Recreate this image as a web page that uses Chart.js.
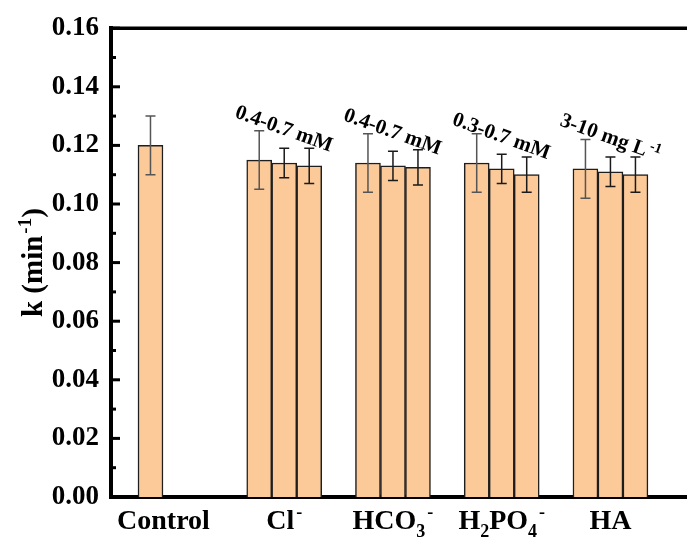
<!DOCTYPE html>
<html lang="en">
<head>
  <meta charset="UTF-8" />
  <title>k (min-1) per anion</title>
  <style>
    html, body { margin: 0; padding: 0; background: #fff; }
    #wrap { width: 687px; height: 540px; }
  </style>
</head>
<body>
  <div id="wrap"><canvas id="chart-k"></canvas></div>

  <script src="https://cdn.jsdelivr.net/npm/chart.js"></script>
  <script>
    // data
    const groups = ['Control', 'Cl-', 'HCO3-', 'H2PO4-', 'HA'];
    const kLow  = [0.120, 0.115, 0.114, 0.114, 0.112];
    const kMid  = [null, 0.114, 0.113, 0.112, 0.111];
    const kHigh = [null, 0.113, 0.1125, 0.110, 0.110];
    const errLow  = [0.010, 0.010, 0.010, 0.010, 0.010];
    const errMid  = [null, 0.005, 0.005, 0.005, 0.005];
    const errHigh = [null, 0.006, 0.006, 0.006, 0.006];
    const rangeText = ['', '0.4-0.7 mM', '0.4-0.7 mM', '0.3-0.7 mM', '3-10 mg L-1'];
    const rangeAt   = [null, 0.126, 0.125, 0.1235, 0.123];
    const yTicks = [0, 0.02, 0.04, 0.06, 0.08, 0.10, 0.12, 0.14, 0.16];

    // rich text pieces: [text, '' | 'sub' | 'sup']
    const groupLabels = [
      [['Control', '']],
      [['Cl', ''], ['-', 'sup']],
      [['HCO', ''], ['3', 'sub'], ['-', 'sup']],
      [['H', ''], ['2', 'sub'], ['PO', ''], ['4', 'sub'], ['-', 'sup']],
      [['HA', '']]
    ];
    const rangeLabels = rangeText.map(t => t.endsWith('L-1') ? [[t.slice(0, -2), ''], ['-1', 'sup']] : [[t, '']]);

    const FONT = '"Liberation Serif", "Times New Roman", serif';

    function drawParts(ctx, parts, x, y, size) {
      const big = 'bold ' + size + 'px ' + FONT;
      const small = 'bold ' + Math.round(size * 0.66) + 'px ' + FONT;
      let total = 0;
      parts.forEach(([t, k]) => { ctx.font = k ? small : big; total += ctx.measureText(t).width + (k === 'sup' ? 2 : 0); });
      let cx = x - total / 2;
      ctx.textAlign = 'left';
      ctx.textBaseline = 'alphabetic';
      parts.forEach(([t, k]) => {
        ctx.font = k ? small : big;
        if (k === 'sup') cx += 2;
        const dy = k === 'sub' ? size * 0.28 : (k === 'sup' ? -size * 0.38 : 0);
        ctx.fillText(t, cx, y + dy);
        cx += ctx.measureText(t).width;
      });
    }

    const toPoints = arr => arr.map((v, i) => ({ x: i + 1, y: v }));
    const errs = [errLow, errMid, errHigh];

    // error bars, inward ticks, top frame line and all the rich text
    const decorations = {
      id: 'decorations',
      afterDatasetsDraw(chart) {
        const { ctx } = chart;
        const y = chart.scales.y;
        ctx.save();
        chart.data.datasets.forEach((ds, d) => {
          const meta = chart.getDatasetMeta(d);
          ctx.strokeStyle = d === 0 ? '#555' : '#1a1a1a';
          ctx.lineWidth = 1.5;
          meta.data.forEach((bar, i) => {
            const v = ds.data[i].y;
            const e = errs[d][i];
            if (v == null || e == null) return;
            const top = y.getPixelForValue(v + e);
            const bot = y.getPixelForValue(v - e);
            ctx.beginPath();
            ctx.moveTo(bar.x, top); ctx.lineTo(bar.x, bot);
            ctx.moveTo(bar.x - 5, top); ctx.lineTo(bar.x + 5, top);
            ctx.moveTo(bar.x - 5, bot); ctx.lineTo(bar.x + 5, bot);
            ctx.stroke();
          });
        });
        ctx.restore();
      },
      afterDraw(chart) {
        const { ctx, chartArea } = chart;
        const x = chart.scales.x;
        const y = chart.scales.y;
        ctx.save();
        ctx.strokeStyle = '#000';
        ctx.fillStyle = '#000';

        // top frame line
        ctx.lineWidth = 3.5;
        ctx.beginPath();
        ctx.moveTo(chartArea.left - 2, chartArea.top);
        ctx.lineTo(chartArea.right, chartArea.top);
        ctx.stroke();

        // inward major and minor ticks on the y axis
        ctx.lineWidth = 3;
        yTicks.forEach((v, i) => {
          const py = y.getPixelForValue(v);
          ctx.beginPath();
          ctx.moveTo(chartArea.left, py); ctx.lineTo(chartArea.left + 9, py);
          ctx.stroke();
          if (i < yTicks.length - 1) {
            const pm = y.getPixelForValue((v + yTicks[i + 1]) / 2);
            ctx.beginPath();
            ctx.moveTo(chartArea.left, pm); ctx.lineTo(chartArea.left + 5, pm);
            ctx.stroke();
          }
        });

        // category labels under the axis
        groupLabels.forEach((parts, i) => {
          const shift = i === 0 ? -12 : 0;
          drawParts(ctx, parts, x.getPixelForValue(i + 1) + shift, 529, 28);
        });

        // slanted concentration ranges
        rangeLabels.forEach((parts, i) => {
          if (rangeAt[i] == null) return;
          ctx.save();
          ctx.translate(x.getPixelForValue(i + 1), y.getPixelForValue(rangeAt[i]));
          ctx.rotate(20 * Math.PI / 180);
          drawParts(ctx, parts, 0, 7, 21);
          ctx.restore();
        });

        // y axis title
        ctx.save();
        ctx.translate(42, (chartArea.top + chartArea.bottom) / 2);
        ctx.rotate(-Math.PI / 2);
        drawParts(ctx, [['k (min', ''], ['-1', 'sup'], [')', '']], 0, 0, 29);
        ctx.restore();

        ctx.restore();
      }
    };

    const barStyle = {
      backgroundColor: '#fcc999',
      borderColor: '#1e1e1e',
      borderWidth: 1.5,
      barThickness: 25
    };

    new Chart(document.getElementById('chart-k'), {
      type: 'bar',
      data: {
        datasets: [
          { label: 'low', data: toPoints(kLow), ...barStyle },
          { label: 'mid', data: toPoints(kMid), ...barStyle },
          { label: 'high', data: toPoints(kHigh), ...barStyle }
        ]
      },
      options: {
        responsive: true,
        maintainAspectRatio: false,
        animation: false,
        layout: { padding: { top: 23, right: 0, bottom: 0, left: 0 } },
        plugins: { legend: { display: false }, tooltip: { enabled: false } },
        scales: {
          x: {
            type: 'linear',
            offset: false,
            min: 0.407,
            max: 5.704,
            ticks: { display: false },
            grid: { display: false, drawTicks: false, offset: false },
            border: { display: true, color: '#000', width: 4 },
            afterFit(scale) { scale.height = 43; }
          },
          y: {
            min: 0,
            max: 0.16,
            afterBuildTicks(scale) { scale.ticks = yTicks.map(v => ({ value: v })); },
            ticks: {
              color: '#000',
              padding: 12,
              font: { family: FONT, size: 27, weight: 'bold' },
              callback: v => v.toFixed(2)
            },
            grid: { display: false, drawTicks: false },
            border: { display: true, color: '#000', width: 4 },
            afterFit(scale) { scale.width = 111; }
          }
        }
      },
      plugins: [decorations]
    });
  </script>
</body>
</html>
